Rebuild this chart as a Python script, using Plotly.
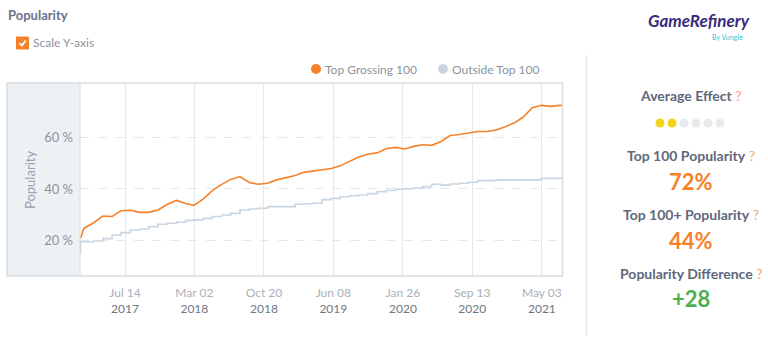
import plotly.graph_objects as go

# ---------------- data ----------------
dates_top = ["2017-02-14", "2017-02-19", "2017-02-24", "2017-03-01", "2017-04-01", "2017-05-01",
             "2017-06-01", "2017-07-01", "2017-08-01", "2017-09-01", "2017-10-01", "2017-11-01",
             "2017-12-01", "2018-01-01", "2018-02-01", "2018-03-01", "2018-04-01", "2018-05-01",
             "2018-06-01", "2018-07-01", "2018-08-01", "2018-09-01", "2018-10-01", "2018-11-01",
             "2018-12-01", "2019-01-01", "2019-02-01", "2019-03-01", "2019-04-01", "2019-05-01",
             "2019-06-01", "2019-07-01", "2019-08-01", "2019-09-01", "2019-10-01", "2019-11-01",
             "2019-12-01", "2020-01-01", "2020-02-01", "2020-03-01", "2020-04-01", "2020-05-01",
             "2020-06-01", "2020-07-01", "2020-08-01", "2020-09-01", "2020-10-01", "2020-11-01",
             "2020-12-01", "2021-01-01", "2021-02-01", "2021-03-01", "2021-04-01", "2021-05-01",
             "2021-06-01", "2021-07-01", "2021-07-09"]
top_grossing = [21.0, 21.8, 24.2, 25.0, 27.0, 29.6,
                29.4, 31.6, 31.8, 31.0, 31.0, 31.9,
                34.0, 35.6, 34.4, 33.7, 36.2, 39.4,
                41.8, 43.7, 44.8, 42.5, 41.8, 42.2,
                43.5, 44.4, 45.2, 46.4, 46.9, 47.2,
                47.9, 48.9, 50.6, 52.3, 53.4, 53.9,
                55.5, 56.0, 55.4, 56.4, 57.0, 56.8,
                58.3, 60.6, 61.0, 61.6, 62.1, 62.1,
                62.7, 64.0, 65.5, 67.6, 71.3, 72.2,
                71.8, 72.2, 72.2]

dates_out = ["2017-02-14", "2017-02-16", "2017-03-01", "2017-04-01", "2017-05-01", "2017-06-01",
             "2017-07-01", "2017-08-01", "2017-09-01", "2017-10-01", "2017-11-01", "2017-12-01",
             "2018-01-01", "2018-02-01", "2018-03-01", "2018-04-01", "2018-05-01", "2018-06-01",
             "2018-07-01", "2018-08-01", "2018-09-01", "2018-10-01", "2018-11-01", "2018-12-01",
             "2019-01-01", "2019-02-01", "2019-03-01", "2019-04-01", "2019-05-01", "2019-06-01",
             "2019-07-01", "2019-08-01", "2019-09-01", "2019-10-01", "2019-11-01", "2019-12-01",
             "2020-01-01", "2020-02-01", "2020-03-01", "2020-04-01", "2020-05-01", "2020-06-01",
             "2020-07-01", "2020-08-01", "2020-09-01", "2020-10-01", "2020-11-01", "2020-12-01",
             "2021-01-01", "2021-02-01", "2021-03-01", "2021-04-01", "2021-05-01", "2021-06-01",
             "2021-07-01", "2021-07-09"]
outside_top = [15.5, 19.7, 19.7, 20.0, 20.9, 22.3,
               23.2, 24.2, 24.6, 25.5, 26.4, 26.8,
               27.2, 27.9, 28.1, 28.7, 29.4, 30.0,
               30.6, 31.9, 32.3, 32.6, 33.2, 33.2,
               33.2, 34.1, 34.3, 34.5, 35.9, 36.4,
               37.0, 37.4, 37.7, 38.2, 39.0, 39.4,
               39.9, 40.1, 40.4, 40.9, 41.8, 41.5,
               41.9, 42.2, 42.6, 43.2, 43.2, 43.5,
               43.5, 43.5, 43.5, 43.5, 44.1, 44.1,
               44.1, 44.1]

tick_dates = ["2017-07-14", "2018-03-02", "2018-10-20", "2019-06-08", "2020-01-26", "2020-09-13", "2021-05-03"]
tick_day = ["Jul 14", "Mar 02", "Oct 20", "Jun 08", "Jan 26", "Sep 13", "May 03"]
tick_year = ["2017", "2018", "2018", "2019", "2020", "2020", "2021"]
y_ticks = [20, 40, 60]
y_ticktext = ["20 %", "40 %", "60 %"]

series_names = ["Top Grossing 100", "Outside Top 100"]
series_colors = ["#f5822a", "#c9d6e1"]

effect_level = 2
effect_total = 6
stats_labels = ["Top 100 Popularity", "Top 100+ Popularity", "Popularity Difference"]
stats_values = ["72%", "44%", "+28"]
stats_colors = ["#f5822a", "#f5822a", "#4caf50"]

# ---------------- layout helpers ----------------
W, H = 768, 338
L, R, T, B = 80, 562, 83, 276


def px(x):
    return (x - L) / (R - L)


def py(y):
    return (B - y) / (B - T)


FONT = "Lato"
LABEL = "#5e687a"
MUTED = "#8c939e"

fig = go.Figure()
fig.add_trace(go.Scatter(x=dates_out, y=outside_top, mode="lines", line=dict(color=series_colors[1], width=1.6, shape="hv"),
                         name=series_names[1], showlegend=False))
fig.add_trace(go.Scatter(x=dates_top, y=top_grossing, mode="lines", line=dict(color=series_colors[0], width=1.6),
                         name=series_names[0], showlegend=False))

ticktext = [f"<span style='color:#a9b0ba'>{d}</span><br><span style='color:#6f7784'>{y}</span>" for d, y in zip(tick_day, tick_year)]

fig.update_layout(
    width=W, height=H,
    margin=dict(l=L, r=W - R, t=T, b=H - B, pad=0),
    paper_bgcolor="white", plot_bgcolor="white",
    font=dict(family=FONT, size=12, color=MUTED),
    xaxis=dict(type="date", range=["2017-02-14", "2021-07-09"], tickvals=tick_dates, ticktext=ticktext,
               showgrid=True, gridcolor="#e5e8ec", gridwidth=1, zeroline=False, showline=False, ticks="",
               tickfont=dict(size=12), ticklabelstandoff=8, fixedrange=True),
    yaxis=dict(range=[6.5, 80.8], tickvals=y_ticks, ticktext=y_ticktext, showgrid=True, gridcolor="#e3e6ea",
               griddash="dash", gridwidth=1, zeroline=False, showline=False, ticks="",
               tickfont=dict(size=13, color="#8c939e"), ticklabelstandoff=6),
    showlegend=False,
)

shapes = []
# grey y-axis panel
shapes.append(dict(type="rect", xref="paper", yref="paper", x0=px(7), x1=px(80), y0=py(276), y1=py(83),
                   fillcolor="#eef1f4", line=dict(width=0), layer="below"))
# outer border
shapes.append(dict(type="rect", xref="paper", yref="paper", x0=px(7), x1=px(562.5), y0=py(276), y1=py(83),
                   fillcolor="rgba(0,0,0,0)", line=dict(color="#d8dce1", width=1.5), layer="above"))
shapes.append(dict(type="line", xref="paper", yref="paper", x0=px(80), x1=px(80), y0=py(276), y1=py(83),
                   line=dict(color="#d8dce1", width=1), layer="above"))
# divider
shapes.append(dict(type="line", xref="paper", yref="paper", x0=px(586.5), x1=px(586.5), y0=py(55), y1=py(336),
                   line=dict(color="#e4e6ea", width=1.5)))
# checkbox
shapes.append(dict(type="rect", xref="paper", yref="paper", x0=px(16.5), x1=px(28.5), y0=py(49), y1=py(37),
                   fillcolor="#f5822a", line=dict(color="#f5822a", width=1)))
shapes.append(dict(type="path", xref="paper", yref="paper",
                   path=f"M {px(19.5)} {py(43)} L {px(21.8)} {py(45.5)} L {px(25.8)} {py(40.5)}",
                   line=dict(color="white", width=1.8)))
# legend dots
for cx, col in [(316, series_colors[0]), (443, series_colors[1])]:
    shapes.append(dict(type="circle", xref="paper", yref="paper", x0=px(cx - 5), x1=px(cx + 5),
                       y0=py(74), y1=py(64), fillcolor=col, line=dict(width=0)))
# effect dots
for i in range(effect_total):
    cx = 660 + i * 12
    col = "#f2d21a" if i < effect_level else "#e8eaed"
    shapes.append(dict(type="circle", xref="paper", yref="paper", x0=px(cx - 4.5), x1=px(cx + 4.5),
                       y0=py(127.5), y1=py(118.5), fillcolor=col, line=dict(width=0)))
fig.update_layout(shapes=shapes)

ann = []


def text(x, y, t, size, color, xanchor="left", **kw):
    ann.append(dict(xref="paper", yref="paper", x=px(x), y=py(y), text=t, showarrow=False,
                    xanchor=xanchor, yanchor="middle", font=dict(family=FONT, size=size, color=color), **kw))


text(6, 15, "<b>Popularity</b>", 13, "#6a7387")
text(31, 43, "Scale Y-axis", 12, MUTED)
text(323, 69, series_names[0], 12, MUTED)
text(450, 69, series_names[1], 12, MUTED)
text(30, 180, "Popularity", 13, "#9aa1ab", xanchor="center", textangle=-90)

# logo
text(699, 21, "<b><i>GameRefinery</i></b>", 17, "#3b2a7e", xanchor="center")
text(727, 37, "By <span style='color:#36c5c9'>Vungle</span>", 7, "#36c5c9", xanchor="center")

Q = "<span style='color:#f5a36d'> ?</span>"
text(691, 95, "<b>Average Effect</b>" + Q, 14, LABEL, xanchor="center")
ys_label = [155, 214, 273]
ys_value = [181, 240, 298]
for lab, val, col, yl, yv in zip(stats_labels, stats_values, stats_colors, ys_label, ys_value):
    text(691, yl, f"<b>{lab}</b>" + Q, 14, LABEL, xanchor="center")
    text(691, yv, f"<b>{val}</b>", 22, col, xanchor="center")

fig.update_layout(annotations=ann)
fig.write_html("out.html")
